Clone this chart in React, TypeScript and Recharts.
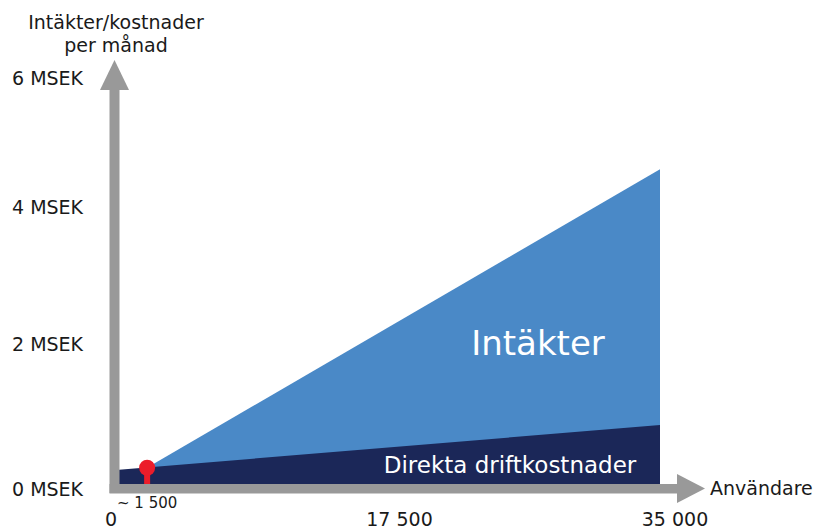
import { ComposedChart, Area, XAxis, YAxis, ReferenceDot } from 'recharts'

const users = [0, 35000]
const revenue = [0, 4.64]
const costs = [0.21, 0.87]
const breakEvenUsers = 1820
const breakEvenValue = 0.24
const breakEvenLabel = '~ 1 500'

const xTicks = [0, 17500, 35000]
const xTickLabels = ['0', '17 500', '35 000']
const yTicks = [0, 2, 4, 6]
const yTickLabels = ['0 MSEK', '2 MSEK', '4 MSEK', '6 MSEK']

const BLUE = '#4a89c7'
const NAVY = '#1b2758'
const RED = '#ec1c2a'
const GRAY = '#999999'
const FONT = '"DejaVu Sans", Verdana, sans-serif'

// small nudges so the labels sit where the original put them
const xTickDx = [-8, 10, 15]
const yTickDy = [5, -4, -6, 1]

const data = users.map((u, i) => ({ users: u, revenue: revenue[i], cost: costs[i] }))

function XTick(props: any) {
    const { x, payload, index } = props
    return (
        <text x={x + xTickDx[index]} y={526} textAnchor="middle" fontSize={19} fontFamily={FONT} fill="#1a1a1a">
            {xTickLabels[xTicks.indexOf(payload.value)]}
        </text>
    )
}

function YTick(props: any) {
    const { y, payload, index } = props
    return (
        <text x={12} y={y + yTickDy[index] + 7} textAnchor="start" fontSize={19} fontFamily={FONT} fill="#1a1a1a">
            {yTickLabels[yTicks.indexOf(payload.value)]}
        </text>
    )
}

function BreakEvenDot(props: any) {
    const { cx, cy } = props
    return (
        <g>
            <rect x={cx - 3} y={cy} width={6} height={484 - cy} fill={RED} />
            <circle cx={cx} cy={cy} r={8} fill={RED} />
            <text x={cx} y={508} textAnchor="middle" fontSize={15} fontFamily={FONT} fill="#1a1a1a">
                {breakEvenLabel}
            </text>
        </g>
    )
}

function App() {
    return (
        <div style={{ position: 'absolute', left: 0, top: 0, width: 816, height: 529, background: '#fff' }}>
            <ComposedChart width={816} height={529} data={data} margin={{ top: 77, right: 156, bottom: 0, left: 0 }}>
                <XAxis
                    dataKey="users"
                    type="number"
                    domain={[0, 35000]}
                    ticks={xTicks}
                    interval={0}
                    height={45}
                    axisLine={false}
                    tickLine={false}
                    tick={XTick}
                />
                <YAxis
                    type="number"
                    domain={[0, 6]}
                    ticks={yTicks}
                    interval={0}
                    width={119}
                    axisLine={false}
                    tickLine={false}
                    tick={YTick}
                />
                <Area type="linear" dataKey="revenue" fill={BLUE} fillOpacity={1} stroke="none" isAnimationActive={false} />
                <Area type="linear" dataKey="cost" fill={NAVY} fillOpacity={1} stroke="none" isAnimationActive={false} />
                <ReferenceDot x={breakEvenUsers} y={breakEvenValue} shape={BreakEvenDot} />
            </ComposedChart>
            <svg width={816} height={529} style={{ position: 'absolute', left: 0, top: 0, pointerEvents: 'none' }}>
                <rect x={109.5} y={89} width={10} height={404} fill={GRAY} />
                <polygon points="114.5,60 100,90 129,90" fill={GRAY} />
                <rect x={109.5} y={484} width={568} height={9.5} fill={GRAY} />
                <polygon points="705,488.5 677,474 677,503" fill={GRAY} />
                <text x={116} y={29} textAnchor="middle" fontSize={19} fontFamily={FONT} fill="#1a1a1a">
                    Intäkter/kostnader
                </text>
                <text x={116} y={52} textAnchor="middle" fontSize={19} fontFamily={FONT} fill="#1a1a1a">
                    per månad
                </text>
                <text x={710} y={495} textAnchor="start" fontSize={19} fontFamily={FONT} fill="#1a1a1a">
                    Användare
                </text>
                <text x={538} y={355} textAnchor="middle" fontSize={34} fontFamily={FONT} fill="#fff">
                    Intäkter
                </text>
                <text x={510} y={473} textAnchor="middle" fontSize={23} fontFamily={FONT} fill="#fff">
                    Direkta driftkostnader
                </text>
            </svg>
        </div>
    )
}

export default App
